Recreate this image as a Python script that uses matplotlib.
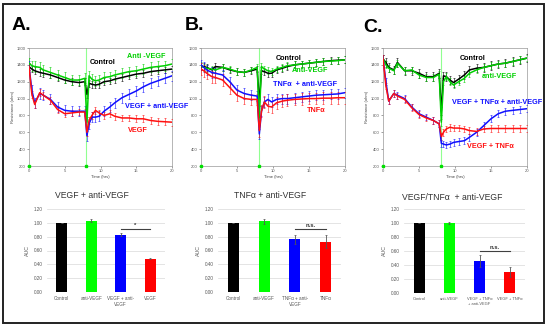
import matplotlib
matplotlib.use("Agg")
import matplotlib.pyplot as plt
from matplotlib.patches import Rectangle
from matplotlib import font_manager

W, H = 550, 327

plt.rcParams['font.family'] = ['Liberation Sans', 'DejaVu Sans']

# ---- time-course data (resistance, ohm) ----
T = [0, 0.4, 0.8, 1.5, 2, 3, 4, 5, 6, 7, 7.8, 8.1, 8.4, 8.8, 9.3, 9.8,
     10.5, 11.3, 12, 13, 14, 15, 16, 17, 18, 19, 20]

a_green = [1420, 1390, 1380, 1370, 1340, 1310, 1280, 1250, 1220, 1220, 1240, 720, 1270, 1230,
           1210, 1220, 1250, 1260, 1280, 1300, 1320, 1330, 1350, 1370, 1380, 1390, 1410]
a_black = [1380, 1350, 1330, 1310, 1300, 1280, 1250, 1220, 1200, 1190, 1200, 1050, 1180, 1170,
           1160, 1170, 1200, 1210, 1230, 1250, 1270, 1290, 1300, 1320, 1330, 1340, 1350]
a_blue = [1380, 1100, 950, 1060, 1040, 990, 900, 860, 850, 850, 850, 560, 700, 780,
          780, 790, 850, 900, 950, 1010, 1050, 1090, 1140, 1180, 1210, 1240, 1270]
a_red = [1380, 1050, 930, 1070, 1040, 980, 870, 820, 830, 840, 840, 600, 740, 800,
         860, 830, 800, 820, 790, 770, 770, 760, 760, 740, 730, 725, 720]

b_green = [1390, 1370, 1360, 1350, 1340, 1370, 1350, 1320, 1310, 1340, 1370, 770, 1380, 1350,
           1330, 1320, 1350, 1370, 1390, 1400, 1410, 1420, 1430, 1440, 1445, 1450, 1460]
b_black = [1380, 1380, 1370, 1340, 1380, 1370, 1340, 1320, 1310, 1330, 1350, 950, 1330, 1320,
           1300, 1300, 1340, 1360, 1380, 1400, 1410, 1420, 1430, 1440, 1450, 1455, 1460]
b_blue = [1400, 1370, 1340, 1310, 1300, 1280, 1200, 1100, 1060, 1040, 1030, 580, 850, 960,
          990, 960, 990, 1000, 1000, 1010, 1020, 1030, 1040, 1045, 1050, 1055, 1070]
b_red = [1350, 1330, 1300, 1260, 1250, 1220, 1130, 1040, 1000, 990, 990, 620, 850, 960,
         910, 900, 950, 970, 980, 990, 995, 1000, 1000, 1005, 1005, 1010, 1010]

c_black = [1470, 1430, 1370, 1340, 1430, 1330, 1330, 1300, 1260, 1260, 1300, 850, 1270, 1260,
           1220, 1190, 1230, 1280, 1340, 1360, 1370, 1390, 1410, 1420, 1440, 1460, 1480]
c_green = [1480, 1400, 1360, 1330, 1420, 1330, 1340, 1280, 1250, 1250, 1290, 720, 1200, 1260,
           1200, 1160, 1200, 1240, 1300, 1340, 1370, 1390, 1410, 1420, 1440, 1460, 1480]
c_blue = [1480, 1200, 970, 1060, 1040, 1000, 900, 820, 780, 740, 700, 470, 460, 450,
          460, 480, 490, 500, 540, 600, 680, 760, 820, 850, 860, 870, 880]
c_red = [1480, 1150, 970, 1060, 1030, 990, 890, 810, 770, 740, 700, 550, 600, 640,
         660, 650, 650, 640, 620, 610, 640, 645, 645, 645, 645, 645, 645]

# ---- AUC bar data ----
a_cats = ["Control", "anti-VEGF", "VEGF + anti-\nVEGF", "VEGF"]
a_auc = [1.00, 1.03, 0.83, 0.48]
a_err = [0.0, 0.02, 0.02, 0.005]

b_cats = ["Control", "anti-VEGF", "TNF\u03b1 + anti-\nVEGF", "TNF\u03b1"]
b_auc = [1.00, 1.02, 0.76, 0.73]
b_err = [0.0, 0.04, 0.07, 0.10]

c_cats = ["Control", "anti-VEGF", "VEGF + TNF\u03b1\n+ anti-VEGF", "VEGF + TNF\u03b1"]
c_auc = [1.00, 1.00, 0.46, 0.30]
c_err = [0.0, 0.01, 0.09, 0.07]

GREEN = "#00d000"
BLUE = "#1010ff"
RED = "#ff1010"
BAR_COLORS = ["#000000", "#00ff00", "#0000ff", "#ff0000"]

names = {f.name for f in font_manager.fontManager.ttflist}
NARROW = ["Liberation Sans Narrow", "Liberation Sans"] if "Liberation Sans Narrow" in names \
    else ["Liberation Sans"]


def box(l, t, r, b):
    return [l / W, 1 - b / H, (r - l) / W, (b - t) / H]


def line_panel(rect, series, labels, ylab=True):
    ax = fig.add_axes(box(*rect))
    ax.axvline(8, color="#90ff90", lw=0.8, zorder=1)
    for vals, col, err in series:
        ax.errorbar(T, vals, yerr=err, color=col, lw=1.1, elinewidth=0.4,
                    capsize=0.8, capthick=0.4, zorder=3)
    ax.plot([0, 8], [200, 200], "s", color="#00e000", ms=2, clip_on=False, zorder=4)
    ax.set_xlim(0, 20)
    ax.set_ylim(200, 1600)
    ax.set_xticks([0, 5, 10, 15, 20])
    ax.set_yticks(range(200, 1601, 200))
    ax.tick_params(labelsize=3, length=1.5, width=0.4, pad=1, colors="#555555")
    for s in ax.spines.values():
        s.set_color("#999999")
        s.set_linewidth(0.5)
    ax.set_xlabel("Time (hrs)", fontsize=3, labelpad=1, color="#444444")
    if ylab:
        ax.set_ylabel("Resistance (ohm)", fontsize=3, labelpad=1, color="#444444")
    for x, y, txt, col in labels:
        fig.text(x / W, 1 - y / H, txt, color=col, fontsize=5.2, fontweight="bold",
                 family=NARROW, ha="left", va="center")
    return ax


def bar_panel(rect, title, cats, vals, errs, sig_y, sig_txt, title_x, title_y, tick_fs=3.3):
    ax = fig.add_axes(box(*rect))
    x = range(len(cats))
    ax.bar(x, vals, width=0.36, color=BAR_COLORS, zorder=3)
    ax.errorbar(x, vals, yerr=errs, fmt="none", ecolor="#555555", elinewidth=0.6,
                capsize=1, capthick=0.5, zorder=4)
    ax.set_ylim(0, 1.2)
    ax.set_xlim(-0.5, 3.5)
    ax.set_yticks([0, 0.2, 0.4, 0.6, 0.8, 1.0, 1.2])
    ax.set_yticklabels(["%.2f" % v for v in ax.get_yticks()])
    ax.set_xticks(list(x))
    ax.set_xticklabels(cats)
    ax.grid(axis="y", color="#d9d9d9", lw=0.5, zorder=0)
    for s in ax.spines.values():
        s.set_visible(False)
    ax.axhline(0, color="#d0d0d0", lw=0.6, zorder=1)
    ax.tick_params(axis="y", labelsize=3.3, length=0, pad=3, colors="#555555")
    ax.tick_params(axis="x", labelsize=tick_fs, length=0, pad=3, colors="#555555")
    ax.set_ylabel("AUC", fontsize=3.8, color="#555555", labelpad=3)
    ax.plot([2, 3], [sig_y, sig_y], color="#404040", lw=0.8, zorder=4)
    ax.text(2.5, sig_y + 0.02, sig_txt, ha="center", va="bottom", fontsize=4.2,
            color="#333333", fontweight="bold")
    fig.text(title_x / W, 1 - title_y / H, title, ha="center", va="center",
             fontsize=6.2, color="#333333")
    return ax


fig = plt.figure(figsize=(5.5, 3.27), dpi=100)

fig.patches.append(Rectangle((3 / W, 1 - 323 / H), 541 / W, 319 / H, transform=fig.transFigure,
                             fill=False, edgecolor="#222222", lw=1.4))

fig.text(12 / W, 1 - 25 / H, "A.", fontsize=14, fontweight="bold", va="center")
fig.text(185 / W, 1 - 25 / H, "B.", fontsize=14, fontweight="bold", va="center")
fig.text(363 / W, 1 - 28 / H, "C.", fontsize=14, fontweight="bold", va="center")

line_panel((29, 48, 172, 166),
           [(a_black, "black", 40), (a_green, GREEN, 60), (a_blue, BLUE, 60), (a_red, RED, 40)],
           [(127, 57, "Anti -VEGF", GREEN), (90, 62, "Control", "black"),
            (125, 106, "VEGF + anti-VEGF", BLUE), (128, 130, "VEGF", RED)])
line_panel((201, 48, 345, 166),
           [(b_black, "black", 40), (b_green, GREEN, 40), (b_blue, BLUE, 60), (b_red, RED, 70)],
           [(276, 58, "Control", "black"), (292, 71, "Anti-VEGF", GREEN),
            (273, 85, "TNF\u03b1  + anti-VEGF", BLUE), (307, 110, "TNF\u03b1", RED)],
           ylab=False)
line_panel((383, 48, 527, 166),
           [(c_black, "black", 50), (c_green, GREEN, 40), (c_blue, BLUE, 40), (c_red, RED, 40)],
           [(460, 59, "Control", "black"), (482, 77, "anti-VEGF", GREEN),
            (452, 103, "VEGF + TNF\u03b1 + anti-VEGF", BLUE), (467, 146, "VEGF + TNF\u03b1", RED)])

bar_panel((47, 209, 165, 292), "VEGF + anti-VEGF", a_cats, a_auc, a_err, 0.91, "*", 92, 195)
bar_panel((218, 209, 341, 292), "TNF\u03b1 + anti-VEGF", b_cats, b_auc, b_err, 0.91, "n.s.",
          270, 195)
bar_panel((404, 209, 525, 293), "VEGF/TNF\u03b1  + anti-VEGF", c_cats, c_auc, c_err, 0.60, "n.s.",
          452, 197, tick_fs=2.9)

fig.savefig("out.png", dpi=100)
